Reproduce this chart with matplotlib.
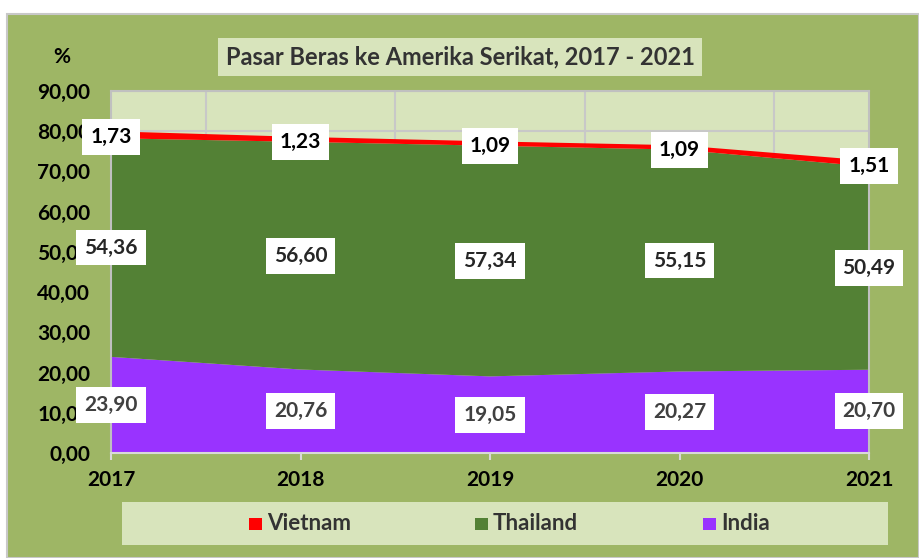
import numpy as np
import matplotlib.pyplot as plt
from matplotlib.patches import Rectangle

plt.rcParams['font.family'] = ['Lato', 'DejaVu Sans']

# data
years = ['2017', '2018', '2019', '2020', '2021']
india = [23.90, 20.76, 19.05, 20.27, 20.70]
thailand = [54.36, 56.60, 57.34, 55.15, 50.49]
vietnam = [1.73, 1.23, 1.09, 1.09, 1.51]
series_names = ['Vietnam', 'Thailand', 'India']
colors = {'Vietnam': '#FF0000', 'Thailand': '#538135', 'India': '#9933FF'}

W, H = 919, 558
fig = plt.figure(figsize=(W / 100, H / 100), dpi=100)
fig.patch.set_facecolor('white')

# outer chart area
fig.patches.append(Rectangle((7 / W, 0), 1 - 7 / W, 1 - 14 / H, transform=fig.transFigure,
                             facecolor='#9EB665', edgecolor='#C8C8C8', lw=1.5, zorder=-10))

ax = fig.add_axes([111 / W, (H - 453) / H, (869 - 111) / W, (453 - 91) / H])
ax.set_zorder(5)
ax.set_facecolor('#D8E4BC')

x = np.arange(len(years))
ax.stackplot(x, india, thailand, vietnam,
             colors=[colors['India'], colors['Thailand'], colors['Vietnam']], zorder=2, lw=0)

ax.set_xlim(0, 4)
ax.set_ylim(0, 90)
ax.set_yticks(np.arange(0, 91, 10))
ax.set_yticklabels([f'{v:.2f}'.replace('.', ',') for v in np.arange(0, 91, 10)],
                   fontsize=15, fontweight='bold', color='black')
ax.set_xticks(x)
ax.set_xticklabels(years, fontsize=15, fontweight='bold', color='black')
ax.tick_params(axis='y', length=0, pad=15)
ax.tick_params(axis='x', length=5, color='#D9D9D9', width=1.5, pad=7)

for yv in np.arange(10, 91, 10):
    ax.axhline(yv, color='#C8C8C8', lw=1.5, zorder=1)
for xv in np.arange(0.5, 4, 1):
    ax.axvline(xv, color='#C8C8C8', lw=1.5, zorder=1)
for side in ['left', 'right', 'top']:
    ax.spines[side].set_color('#C0C0C0')
    ax.spines[side].set_linewidth(1.5)
ax.spines['bottom'].set_color('#D9D9D9')
ax.spines['bottom'].set_linewidth(1.5)

# data labels
box = dict(boxstyle='square,pad=0.38', facecolor='white', edgecolor='none')
for i in x:
    ax.text(i, india[i] / 2, f'{india[i]:.2f}'.replace('.', ','), ha='center', va='center',
            fontsize=15, fontweight='bold', color='#404040', bbox=box, zorder=5)
    ax.text(i, india[i] + thailand[i] / 2, f'{thailand[i]:.2f}'.replace('.', ','), ha='center',
            va='center', fontsize=15, fontweight='bold', color='#262626', bbox=box, zorder=5)
    ax.text(i, india[i] + thailand[i] + vietnam[i] / 2 - 0.6, f'{vietnam[i]:.2f}'.replace('.', ','),
            ha='center', va='center', fontsize=15, fontweight='bold', color='black', bbox=box, zorder=5)

# title
fig.text(460 / W, 1 - 57 / H, 'Pasar Beras ke Amerika Serikat, 2017 - 2021', ha='center', va='center',
         fontsize=17, fontweight='bold', color='#333333',
         bbox=dict(boxstyle='square,pad=0.3', facecolor='#D8E4BC', edgecolor='none'))
fig.text(62 / W, 1 - 57 / H, '%', ha='center', va='center', fontsize=15, fontweight='bold', color='black')

# legend
fig.patches.append(Rectangle((122 / W, (H - 545) / H), (888 - 122) / W, 43 / H, transform=fig.transFigure,
                             facecolor='#D8E4BC', edgecolor='none', zorder=1))
leg_x = [249, 475, 703]
for name, lx in zip(series_names, leg_x):
    fig.patches.append(Rectangle((lx / W, (H - 530) / H), 13 / W, 12 / H, transform=fig.transFigure,
                                 facecolor=colors[name], edgecolor='none', zorder=2))
    fig.text((lx + 18) / W, (H - 523) / H, name, ha='left', va='center', fontsize=16,
             fontweight='bold', color='#333333')

fig.savefig('out.png', dpi=100)
